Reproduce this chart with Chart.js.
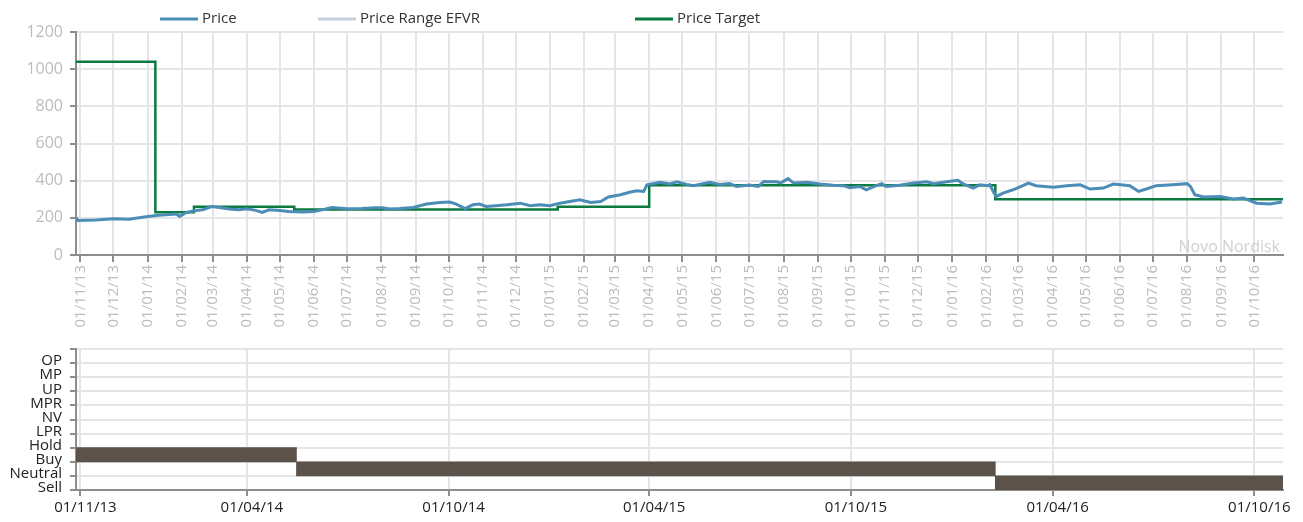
<!DOCTYPE html>
<html>
<head>
<meta charset="utf-8">
<title>Novo Nordisk - Price and rating</title>
<script src="https://cdn.jsdelivr.net/npm/chart.js@4.4.0/dist/chart.umd.min.js"></script>
<style>
  html, body { margin: 0; padding: 0; background: #fff; }
  #wrap { position: relative; width: 1303px; height: 522px; overflow: hidden; }
  #wrap canvas { position: absolute; left: 0; }
  #priceChart { top: 0; }
  #ratingChart { top: 340px; }
</style>
</head>
<body>
<div id="wrap">
  <canvas id="priceChart" width="1303" height="340"></canvas>
  <canvas id="ratingChart" width="1303" height="182"></canvas>
</div>
<script>
// ── Data ──────────────────────────────────────────────────────
const START_DATE = "2013-10-28";
const END_DATE = "2016-10-27";

const priceDates = [
  "2013-10-28", "2013-10-30", "2013-11-15", "2013-12-01", "2013-12-15", "2014-01-01",
  "2014-01-11", "2014-01-27", "2014-01-30", "2014-02-05", "2014-02-14", "2014-02-20",
  "2014-02-28", "2014-03-07", "2014-03-16", "2014-03-25", "2014-04-01", "2014-04-09",
  "2014-04-15", "2014-04-21", "2014-05-01", "2014-05-09", "2014-05-21", "2014-06-01",
  "2014-06-08", "2014-06-17", "2014-07-01", "2014-07-14", "2014-07-26", "2014-08-02",
  "2014-08-09", "2014-08-18", "2014-08-30", "2014-09-11", "2014-09-23", "2014-10-02",
  "2014-10-08", "2014-10-16", "2014-10-23", "2014-10-29", "2014-11-04", "2014-11-13",
  "2014-11-23", "2014-12-05", "2014-12-14", "2014-12-23", "2015-01-01", "2015-01-10",
  "2015-01-19", "2015-01-28", "2015-02-07", "2015-02-16", "2015-02-23", "2015-03-06",
  "2015-03-15", "2015-03-21", "2015-03-27", "2015-03-30", "2015-04-11", "2015-04-20",
  "2015-04-26", "2015-05-05", "2015-05-11", "2015-05-26", "2015-06-04", "2015-06-13",
  "2015-06-19", "2015-07-01", "2015-07-09", "2015-07-14", "2015-07-26", "2015-07-29",
  "2015-08-05", "2015-08-10", "2015-08-22", "2015-09-03", "2015-09-15", "2015-09-24",
  "2015-09-30", "2015-10-09", "2015-10-15", "2015-10-24", "2015-10-29", "2015-11-02",
  "2015-11-14", "2015-11-27", "2015-12-09", "2015-12-15", "2015-12-27", "2016-01-06",
  "2016-01-11", "2016-01-20", "2016-01-26", "2016-02-02", "2016-02-04", "2016-02-08",
  "2016-02-10", "2016-02-16", "2016-02-25", "2016-03-05", "2016-03-10", "2016-03-17",
  "2016-04-02", "2016-04-14", "2016-04-26", "2016-05-05", "2016-05-17", "2016-05-26",
  "2016-06-10", "2016-06-18", "2016-06-25", "2016-07-04", "2016-07-19", "2016-08-01",
  "2016-08-04", "2016-08-08", "2016-08-16", "2016-08-31", "2016-09-12", "2016-09-21",
  "2016-10-03", "2016-10-15", "2016-10-26"
];
const priceValues = [
  200, 186, 189, 195, 193, 207,
  214, 220, 207, 229, 240, 243,
  261, 256, 247, 243, 249, 240,
  229, 243, 240, 234, 232, 234,
  243, 256, 249, 250, 254, 254,
  247, 250, 256, 274, 283, 285,
  274, 250, 270, 274, 261, 265,
  270, 279, 265, 270, 265, 279,
  288, 297, 283, 288, 312, 324,
  339, 346, 342, 378, 391, 382,
  394, 380, 373, 391, 380, 384,
  369, 376, 369, 396, 394, 387,
  411, 387, 391, 382, 375, 373,
  362, 369, 351, 373, 384, 369,
  375, 387, 394, 384, 394, 402,
  382, 360, 378, 373, 378, 333,
  315, 333, 351, 373, 387, 373,
  364, 373, 378, 355, 360, 382,
  373, 342, 355, 373, 378, 384,
  369, 324, 312, 315, 301, 306,
  279, 274, 285
];

const targetDates = ["2013-10-28", "2014-01-08", "2014-02-12", "2014-05-14", "2015-01-08", "2015-04-01", "2016-02-09", "2016-10-27"];
const targetValues = [1040, 230, 260, 245, 260, 375, 300, 300];

const ratingLabels = ["OP", "MP", "UP", "MPR", "NV", "LPR", "Hold", "Buy", "Neutral", "Sell"];
const ratingNames = ["Buy", "Neutral", "Sell"];
const ratingFrom = ["2013-10-28", "2014-05-16", "2016-02-09"];
const ratingTo = ["2014-05-16", "2016-02-09", "2016-10-27"];

const monthTicks = [
  "01/11/13", "01/12/13", "01/01/14", "01/02/14", "01/03/14", "01/04/14", "01/05/14", "01/06/14",
  "01/07/14", "01/08/14", "01/09/14", "01/10/14", "01/11/14", "01/12/14", "01/01/15", "01/02/15",
  "01/03/15", "01/04/15", "01/05/15", "01/06/15", "01/07/15", "01/08/15", "01/09/15", "01/10/15",
  "01/11/15", "01/12/15", "01/01/16", "01/02/16", "01/03/16", "01/04/16", "01/05/16", "01/06/16",
  "01/07/16", "01/08/16", "01/09/16", "01/10/16"
];
const ratingTicks = ["01/11/13", "01/04/14", "01/10/14", "01/04/15", "01/10/15", "01/04/16", "01/10/16"];

const legendX = [160, 318, 635];

// ── Helpers ───────────────────────────────────────────────────
const day = s => Date.UTC(+s.slice(0, 4), +s.slice(5, 7) - 1, +s.slice(8, 10)) / 864e5;
const tickDay = s => {
  const [d, m, y] = s.split("/");
  return Date.UTC(2000 + +y, +m - 1, +d) / 864e5;
};

const GRID = "#e4e4e9";
const AXIS = "#8d8d8d";
const FONT = "'Open Sans', 'DejaVu Sans', sans-serif";

Chart.defaults.font.family = FONT;
Chart.defaults.animation = false;

/* ── Legend + watermark plugin ──────────────────────────────*/
const priceDecor = {
  id: "priceDecor",
  afterDraw(chart) {
    const ctx = chart.ctx;
    ctx.save();
    ctx.font = "15px " + FONT;
    ctx.textBaseline = "middle";
    ctx.textAlign = "left";
    chart.data.datasets.forEach((ds, i) => {
      const x = legendX[i];
      ctx.strokeStyle = ds.borderColor;
      ctx.lineWidth = 3;
      ctx.beginPath();
      ctx.moveTo(x, 19);
      ctx.lineTo(x + 38, 19);
      ctx.stroke();
      ctx.fillStyle = "#333";
      ctx.fillText(ds.label, x + 42, 19);
    });
    ctx.font = "16px " + FONT;
    ctx.fillStyle = "#d0d0d0";
    ctx.textAlign = "right";
    ctx.textBaseline = "alphabetic";
    ctx.fillText("Novo Nordisk", chart.chartArea.right - 3, chart.chartArea.bottom - 3);
    ctx.restore();
  }
};

/* ── Price chart ────────────────────────────────────────────*/
new Chart(document.getElementById("priceChart"), {
  type: "line",
  data: {
    datasets: [
      {
        label: "Price",
        data: priceDates.map((d, i) => ({ x: day(d), y: priceValues[i] })),
        borderColor: "#4b8db7",
        borderWidth: 3,
        pointRadius: 0,
        tension: 0
      },
      {
        label: "Price Range EFVR",
        data: [],
        borderColor: "#c5cedb",
        borderWidth: 2,
        pointRadius: 0
      },
      {
        label: "Price Target",
        data: targetDates.map((d, i) => ({ x: day(d), y: targetValues[i] })),
        borderColor: "#0b7a3e",
        borderWidth: 2.5,
        pointRadius: 0,
        stepped: true
      }
    ]
  },
  options: {
    responsive: false,
    layout: { padding: { top: 32, right: 20, left: 0, bottom: 0 } },
    plugins: { legend: { display: false }, tooltip: { enabled: false } },
    scales: {
      x: {
        type: "linear",
        min: day(START_DATE),
        max: day(END_DATE),
        afterBuildTicks: s => { s.ticks = monthTicks.map(t => ({ value: tickDay(t) })); },
        afterFit: s => { s.height = 85; },
        grid: { color: GRID, lineWidth: 2, tickColor: AXIS, tickLength: 7 },
        border: { color: AXIS, width: 2 },
        ticks: {
          autoSkip: false,
          minRotation: 90,
          maxRotation: 90,
          color: "#bcbcbc",
          font: { size: 15 },
          padding: 3,
          callback: (v, i) => monthTicks[i]
        }
      },
      y: {
        min: 0,
        max: 1200,
        afterFit: s => { s.width = 76; },
        grid: { color: GRID, lineWidth: 2, tickColor: AXIS, tickLength: 6 },
        border: { color: AXIS, width: 2 },
        ticks: { stepSize: 200, color: "#bcbcbc", font: { size: 16 }, padding: 7, callback: v => String(v) }
      }
    }
  },
  plugins: [priceDecor]
});

/* ── Rating chart ───────────────────────────────────────────*/
new Chart(document.getElementById("ratingChart"), {
  type: "bar",
  data: {
    labels: ratingLabels,
    datasets: [{
      label: "Rating",
      data: ratingNames.map((r, i) => ({ y: r, x: [day(ratingFrom[i]), day(ratingTo[i])] })),
      backgroundColor: "#5b5249",
      borderWidth: 0,
      barPercentage: 1,
      categoryPercentage: 1
    }]
  },
  options: {
    responsive: false,
    indexAxis: "y",
    layout: { padding: { top: 9, right: 20, left: 0, bottom: 0 } },
    plugins: { legend: { display: false }, tooltip: { enabled: false } },
    scales: {
      x: {
        type: "linear",
        min: day(START_DATE),
        max: day(END_DATE),
        afterBuildTicks: s => { s.ticks = ratingTicks.map(t => ({ value: tickDay(t) })); },
        afterFit: s => { s.height = 32; },
        grid: { color: GRID, lineWidth: 2, tickColor: AXIS, tickLength: 6 },
        border: { color: AXIS, width: 2 },
        ticks: {
          autoSkip: false,
          maxRotation: 0,
          color: "#222",
          font: { size: 15 },
          padding: 3,
          labelOffset: 5,
          callback: (v, i) => ratingTicks[i]
        }
      },
      y: {
        type: "category",
        offset: true,
        afterFit: s => { s.width = 76; s.paddingTop = 0; s.paddingBottom = 0; },
        grid: { offset: true, color: GRID, lineWidth: 2, tickColor: AXIS, tickLength: 6 },
        border: { color: AXIS, width: 2 },
        ticks: { color: "#222", font: { size: 15 }, padding: 8, labelOffset: 5, autoSkip: false }
      }
    }
  }
});
</script>
</body>
</html>
